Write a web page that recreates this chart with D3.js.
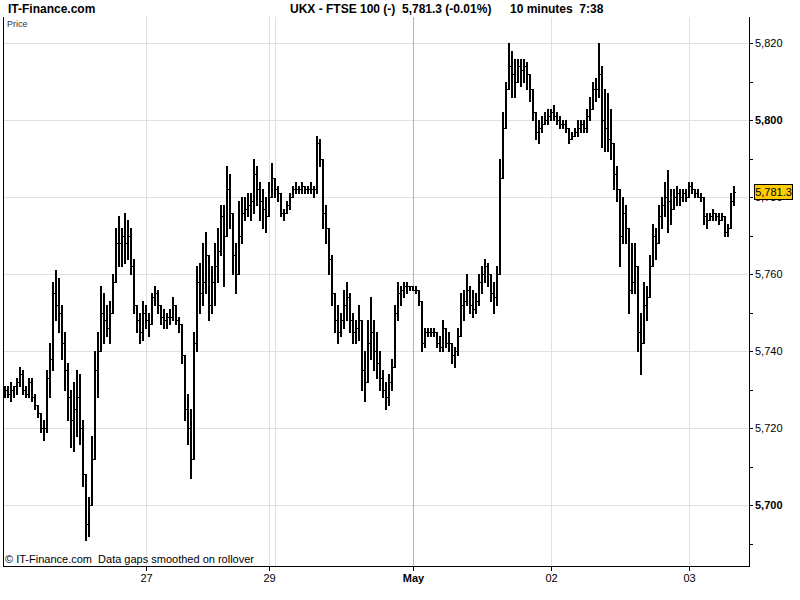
<!DOCTYPE html>
<html><head><meta charset="utf-8">
<script src="https://cdn.jsdelivr.net/npm/d3@7"></script>
<style>body{margin:0;background:#fff} svg{display:block} text{font-family:"Liberation Sans",Arial,sans-serif}</style>
</head><body><svg id="c" width="800" height="600"></svg>
<script>
// 10-minute bars: high, low, close (open = previous close)
const hi = [
5731,5731,5732,5731,5733,5736,5735,5731,5733,5733,5729,5726,5724,5722,
5735,5742,5758,5761,5759,5752,5745,5737,5730,5732,5735,5734,5722,5705,5702,5718,
5740,5745,5757,5755,5752,5753,5760,5772,5775,5772,5776,5774,5772,5764,5752,5750,5753,
5752,5750,5755,5757,5756,5752,5751,5750,5751,5754,5750,5749,5743,5737,5729,
5725,5745,5762,5763,5768,5771,5765,5762,5768,5772,5778,5778,5788,5786,5775,5768,5779,5780,
5780,5781,5781,5790,5788,5784,5782,5780,5784,
5789,5784,5783,5779,5777,5779,5781,5783,5784,5783,5784,5783,5783,5784,5783,5796,5795,5790,5778,
5772,5765,5752,5752,5750,5756,5758,5755,5750,5748,5752,5745,5740,5748,
5754,5748,5745,5740,5735,5732,5734,5738,5752,5758,5757,5758,5758,5757,5757,5757,5756,5753,
5746,5746,5746,5746,5745,5744,5748,5746,5745,5742,5741,5746,5755,5756,5760,5757,5756,5755,
5760,5762,5764,5763,5760,5758,5762,5790,5802,5810,5820,5818,5816,5816,5816,5816,5815,5812,
5808,5802,5800,5801,5802,5803,5803,5804,5802,5801,5800,5800,5798,5797,5798,5800,5800,5800,
5803,5806,5810,5811,5820,5814,5808,5807,5803,5790,5788,5781,5780,5778,5766,5768,5768,5760,
5750,5758,5757,5765,5773,5772,5778,5780,5784,5787,5782,5782,5783,5782,5782,5782,5784,5784,
5782,5782,5781,5779,5776,5776,5777,5776,5776,5776,5773,5773,5781,5783
];
const lo = [
5728,5728,5727,5728,5729,5731,5729,5728,5728,5727,5725,5723,5719,5717,
5719,5728,5735,5748,5745,5738,5730,5722,5715,5714,5718,5716,5705,5691,5692,5700,
5718,5728,5740,5742,5744,5742,5750,5758,5762,5762,5763,5764,5760,5750,5745,5742,5743,
5746,5744,5747,5752,5750,5747,5746,5746,5747,5748,5747,5745,5737,5722,5716,
5707,5728,5740,5750,5752,5755,5748,5750,5752,5758,5765,5757,5770,5772,5760,5755,5762,5768,
5774,5775,5774,5776,5778,5774,5772,5771,5776,
5780,5780,5779,5775,5774,5776,5777,5780,5781,5781,5781,5781,5781,5781,5780,5781,5788,5772,5768,
5760,5752,5745,5742,5744,5746,5748,5745,5742,5742,5743,5730,5727,5735,
5738,5735,5733,5730,5728,5725,5726,5730,5736,5748,5752,5754,5755,5756,5756,5755,5752,5740,
5741,5744,5744,5744,5741,5740,5740,5741,5740,5737,5736,5739,5745,5748,5752,5750,5749,5750,
5752,5755,5758,5757,5753,5750,5752,5760,5790,5800,5808,5806,5806,5810,5809,5810,5808,5805,
5800,5795,5794,5797,5799,5799,5800,5800,5799,5798,5798,5797,5794,5795,5796,5796,5797,5797,
5797,5800,5803,5805,5806,5793,5792,5792,5790,5782,5779,5762,5768,5768,5750,5755,5755,5740,
5734,5745,5748,5758,5764,5764,5770,5772,5775,5771,5773,5778,5778,5778,5779,5779,5780,5781,
5780,5780,5779,5773,5772,5774,5774,5774,5773,5774,5770,5770,5772,5778
];
const cl = [
5730,5729,5730,5731,5732,5734,5730,5729,5732,5728,5726,5724,5720,5720,
5733,5738,5755,5752,5750,5742,5735,5728,5722,5725,5728,5720,5708,5695,5700,5712,
5735,5740,5750,5748,5746,5750,5758,5768,5768,5770,5768,5770,5762,5752,5748,5745,5750,
5748,5747,5754,5755,5752,5749,5748,5749,5749,5752,5748,5747,5739,5725,5720,
5712,5742,5758,5755,5758,5765,5752,5758,5762,5766,5775,5770,5782,5776,5765,5760,5770,5776,
5777,5778,5779,5786,5782,5779,5777,5775,5780,
5785,5782,5781,5776,5776,5778,5780,5782,5782,5782,5783,5782,5782,5782,5782,5794,5790,5776,5772,
5764,5755,5748,5745,5748,5752,5754,5748,5745,5746,5748,5735,5732,5742,
5745,5740,5737,5733,5730,5728,5732,5736,5750,5755,5756,5757,5757,5757,5756,5756,5753,5742,
5745,5745,5745,5745,5742,5741,5746,5742,5742,5739,5740,5744,5752,5753,5756,5752,5751,5753,
5758,5760,5762,5760,5755,5754,5760,5785,5798,5808,5814,5812,5810,5814,5813,5814,5812,5808,
5802,5797,5798,5799,5800,5801,5802,5801,5800,5799,5799,5798,5795,5796,5797,5798,5799,5798,
5801,5803,5808,5808,5812,5800,5798,5795,5794,5786,5782,5770,5776,5772,5756,5758,5762,5745,
5742,5752,5754,5762,5770,5768,5775,5778,5780,5779,5777,5780,5781,5780,5781,5780,5783,5782,
5781,5780,5780,5775,5774,5775,5776,5775,5774,5775,5771,5772,5779,5781.3
];
const dayLabels = ["27","29","May","02","03"];
const dayIdx = [47,88,136,182,228];
const extraGridIdx = [90];
const yTicks = [5700,5720,5740,5760,5780,5800,5820];
const yMinor = [5690,5710,5730,5750,5770,5790,5810];
const lastPrice = 5781.3;
const titleParts = [["IT-Finance.com",8],["UKX - FTSE 100 (-)",290],["5,781.3 (-0.01%)",402],["10 minutes  7:38",510]];

const svg = d3.select("#c");
const L = 3, R = 749, T = 17, B = 566;
const x = d3.scaleLinear().domain([0, cl.length - 1]).range([5, 734]);
const y = d3.scaleLinear().domain([5684.2, 5826.8]).range([B, T]);
const px = v => Math.round(x(v)) + 0.5;
const py = v => Math.round(y(v)) + 0.5;
const fmt = d3.format(",");
const openOf = i => i === 0 ? cl[0] : cl[i-1];

const g = svg.append("g").attr("shape-rendering", "crispEdges");
// horizontal grid
g.selectAll(".hg").data(yTicks).join("line")
  .attr("x1", L).attr("x2", R).attr("y1", d => py(d)).attr("y2", d => py(d))
  .attr("stroke", "#e0e0e0");
// vertical grid
g.selectAll(".vg").data(dayIdx.map((d,i)=>({i:d,l:dayLabels[i]})).concat(extraGridIdx.map(d=>({i:d,l:""}))))
  .join("line")
  .attr("x1", d => px(d.i)).attr("x2", d => px(d.i)).attr("y1", T).attr("y2", B)
  .attr("stroke", d => d.l === "May" ? "#b4b4b4" : "#e0e0e0");

// bars: 2px high-low stem (range includes the open), 1px open/close ticks
const bars = g.append("g").attr("stroke", "#000").attr("fill", "none");
bars.selectAll("path.stem").data(cl).join("path").attr("class","stem")
  .attr("stroke-width", 2)
  .attr("d", (c, i) => {
    const xx = Math.round(x(i));
    const o = openOf(i);
    const top = Math.max(hi[i], o, c), bot = Math.min(lo[i], o, c);
    return `M${xx},${Math.round(y(top))}V${Math.round(y(bot))+1}`;
  });
bars.selectAll("path.tick").data(cl).join("path").attr("class","tick")
  .attr("d", (c, i) => {
    const xx = Math.round(x(i));
    return `M${xx-2},${py(openOf(i))}H${xx}M${xx},${py(c)}H${xx+2}`;
  });

// frame
g.append("line").attr("x1", L+0.5).attr("x2", L+0.5).attr("y1", T).attr("y2", B+1).attr("stroke", "#000");
g.append("line").attr("x1", L).attr("x2", R+1).attr("y1", B+0.5).attr("y2", B+0.5).attr("stroke", "#000");
g.append("line").attr("x1", R+0.5).attr("x2", R+0.5).attr("y1", T).attr("y2", B+1).attr("stroke", "#000");

// y axis ticks + labels
g.selectAll(".yt").data(yTicks.concat(yMinor)).join("line")
  .attr("x1", R).attr("x2", R+4).attr("y1", d => py(d)).attr("y2", d => py(d)).attr("stroke", "#000");
svg.selectAll(".yl").data(yTicks).join("text")
  .attr("x", 755).attr("y", d => y(d) + 4)
  .attr("font-size", 11).attr("font-weight", d => d % 100 === 0 ? "bold" : "normal")
  .text(d => fmt(d));

// x axis ticks + labels
g.selectAll(".xt").data(dayIdx).join("line")
  .attr("x1", d => px(d)).attr("x2", d => px(d)).attr("y1", B).attr("y2", B+5).attr("stroke", "#000");
svg.selectAll(".xl").data(dayIdx).join("text")
  .attr("x", d => px(d)).attr("y", 582).attr("text-anchor", "middle")
  .attr("font-size", 11).attr("font-weight", (d,i) => dayLabels[i] === "May" ? "bold" : "normal")
  .text((d,i) => dayLabels[i]);

// last price box
const ly = Math.round(y(lastPrice));
svg.append("rect").attr("x", 754.5).attr("y", ly - 7.5).attr("width", 38).attr("height", 15)
  .attr("fill", "#ffcc00").attr("stroke", "#000").attr("shape-rendering", "crispEdges");
svg.append("text").attr("x", 773.5).attr("y", ly + 4).attr("text-anchor", "middle")
  .attr("font-size", 11).text(d3.format(",.1f")(lastPrice));

// titles
svg.selectAll(".tt").data(titleParts).join("text")
  .attr("x", d => d[1]).attr("y", 13).attr("font-size", 12).attr("font-weight", "bold")
  .style("white-space", "pre").text(d => d[0]);
svg.append("text").attr("x", 7).attr("y", 27).attr("font-size", 9).attr("fill", "#333").text("Price");
svg.append("text").attr("x", 5).attr("y", 563).attr("font-size", 11).style("white-space", "pre")
  .text("\u00A9 IT-Finance.com  Data gaps smoothed on rollover");
</script></body></html>
